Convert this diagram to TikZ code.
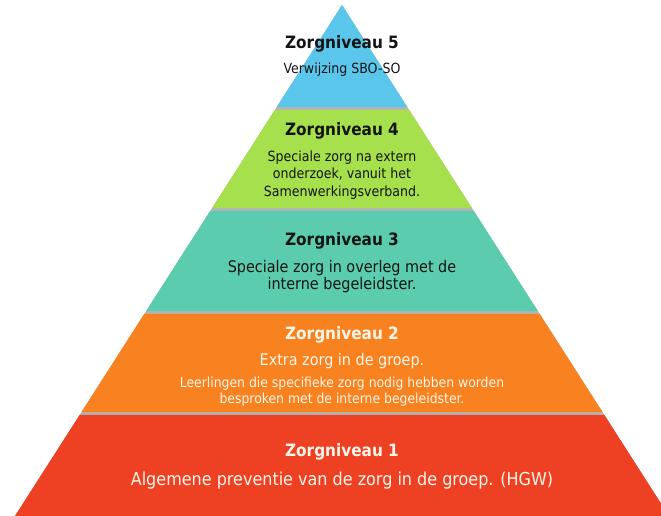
\documentclass[tikz,border=0pt]{standalone}
\usepackage{fontspec}
\setmainfont{DejaVu Sans Condensed}
\definecolor{lvfive}{HTML}{5BC6EC}
\definecolor{lvfour}{HTML}{A6E04C}
\definecolor{lvthree}{HTML}{5BCDAE}
\definecolor{lvtwo}{HTML}{F7821F}
\definecolor{lvone}{HTML}{EE4124}
\definecolor{gapgray}{HTML}{B4B4B4}
\definecolor{darktxt}{HTML}{141414}
\definecolor{lighttxt}{HTML}{FFF6EA}
\tikzset{
  hdr/.style={inner sep=0pt, font=\fontsize{17}{20}\selectfont\bfseries},
  bodytxt/.style={inner sep=0pt, align=center},
}
\newcommand{\hw}[1]{0.64*(#1-5)}
\begin{document}
\begin{tikzpicture}[x=1pt,y=-1pt]
\useasboundingbox (0,0) rectangle (661,515);
\clip (0,0) rectangle (661,515);
% gray backing
\fill[gapgray] (342,5) -- ({342-\hw{520}},520) -- ({342+\hw{520}},520) -- cycle;
% layers
\foreach \ya/\yb/\col in {5/107.2/lvfive, 109.8/208.2/lvfour, 210.8/311.2/lvthree, 313.8/412.2/lvtwo, 414.8/520/lvone}{
  \fill[\col] ({342-\hw{\ya}},\ya) -- ({342+\hw{\ya}},\ya) -- ({342+\hw{\yb}},\yb) -- ({342-\hw{\yb}},\yb) -- cycle;
}
% texts
\node[hdr, text=darktxt] (h5) at (342,44) {Zorgniveau 5};
\node[bodytxt, text=darktxt, font=\fontsize{14}{16}\selectfont] (b5) at (342,70) {Verwijzing SBO-SO};
\node[hdr, text=darktxt] (h4) at (342,131) {Zorgniveau 4};
\node[bodytxt, text=darktxt, font=\fontsize{14}{17.5}\selectfont] (b4) at (342,175) {Speciale zorg na extern\\onderzoek, vanuit het\\Samenwerkingsverband.};
\node[hdr, text=darktxt] (h3) at (342,241) {Zorgniveau 3};
\node[bodytxt, text=darktxt, font=\fontsize{16}{17.5}\selectfont] (b3) at (342,276.5) {Speciale zorg in overleg met de\\interne begeleidster.};
\node[hdr, text=lighttxt] (h2) at (342,335) {Zorgniveau 2};
\node[bodytxt, text=lighttxt, font=\fontsize{16}{18}\selectfont] (b2) at (342,361) {Extra zorg in de groep.};
\node[bodytxt, text=lighttxt, font=\fontsize{13.8}{15.5}\selectfont] (c2) at (342,391.5) {Leerlingen die specifieke zorg nodig hebben worden\\besproken met de interne begeleidster.};
\node[hdr, text=lighttxt] (h1) at (342,452) {Zorgniveau 1};
\node[bodytxt, text=lighttxt, font=\fontsize{17.8}{20}\selectfont] (b1) at (342,481) {Algemene preventie van de zorg in de groep. (HGW)};
\end{tikzpicture}
\end{document}
